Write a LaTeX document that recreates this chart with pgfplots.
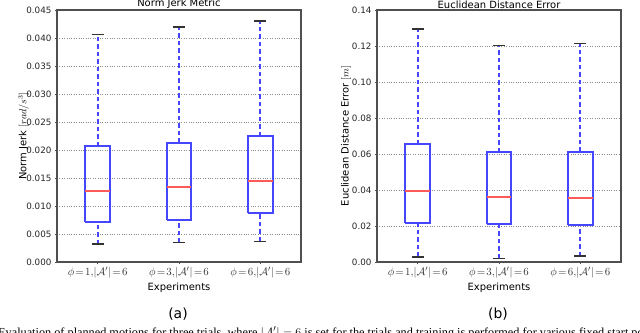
\documentclass[border=0pt]{standalone}
\usepackage{fontspec}
\setmainfont{DejaVu Sans}
\newfontfamily\capfont{Liberation Serif}
\usepackage{pgfplots}
\pgfplotsset{compat=1.18}
\definecolor{spine}{RGB}{80,80,80}
\definecolor{boxblue}{RGB}{70,70,255}
\definecolor{medred}{RGB}{255,90,90}
\pgfplotsset{
  mybox/.style={
    width=244bp, height=252bp, scale only axis,
    xmin=0.5, xmax=3.5,
    xtick={1,2,3},
    xticklabels={{$\phi\!=\!1,\!|\mathcal{A}'|\!=\!6$},{$\phi\!=\!3,\!|\mathcal{A}'|\!=\!6$},{$\phi\!=\!6,\!|\mathcal{A}'|\!=\!6$}},
    x tick label style={font=\fontsize{11}{12}\selectfont, color=black!80},
    y tick label style={font=\fontsize{8.8}{10}\selectfont, color=black!85},
    /pgf/number format/assume math mode=true,
    /pgf/number format/fixed, /pgf/number format/fixed zerofill,
    ymajorgrids, grid style={dotted, black!45, line width=0.6pt},
    axis line style={spine, line width=1.1pt},
    tick align=outside, major tick length=2bp,
    tick style={spine, line width=0.5pt},
    xtick pos=bottom, ytick pos=left,
    title style={font=\fontsize{10}{12}\selectfont, yshift=-8bp},
    xlabel={Experiments},
    xlabel style={font=\fontsize{10}{12}\selectfont, yshift=3bp},
    ylabel style={font=\fontsize{10}{12}\selectfont, anchor=center},
    unbounded coords=jump,
    whisk/.style={boxblue, line width=2bp, dash pattern=on 4.5bp off 3bp},
    cap/.style={black!80, line width=1.5bp},
    bx/.style={boxblue, line width=2bp, line join=miter},
    med/.style={medred, line width=2bp},
  }
}
\begin{document}
\begin{tikzpicture}
\useasboundingbox (0,0) rectangle (640bp,333bp);
\begin{axis}[mybox, at={(57bp,71bp)}, anchor=south west,
  ymin=0, ymax=0.045, ytick={0,0.005,...,0.045},
  /pgf/number format/precision=3,
  scaled y ticks=false,
  title={Norm Jerk Metric},
  ylabel={Norm Jerk $[rad/s^3]$},
  ylabel style={at={(axis description cs:-0.137,0.5)}},
]
% whiskers: lower whisker -> Q1, Q3 -> upper whisker
\addplot[whisk] coordinates {
  (1,0.0032) (1,0.00715) (nan,nan) (1,0.0207) (1,0.0406) (nan,nan)
  (2,0.00346) (2,0.00745) (nan,nan) (2,0.0213) (2,0.0420) (nan,nan)
  (3,0.0037) (3,0.00882) (nan,nan) (3,0.0225) (3,0.0430)};
% caps
\addplot[cap] coordinates {
  (0.925,0.0032) (1.075,0.0032) (nan,nan) (0.925,0.0406) (1.075,0.0406) (nan,nan)
  (1.925,0.00346) (2.075,0.00346) (nan,nan) (1.925,0.0420) (2.075,0.0420) (nan,nan)
  (2.925,0.0037) (3.075,0.0037) (nan,nan) (2.925,0.0430) (3.075,0.0430)};
% boxes Q1..Q3
\addplot[bx] coordinates {
  (0.85,0.00715) (1.15,0.00715) (1.15,0.0207) (0.85,0.0207) (0.85,0.00715) (nan,nan)
  (1.85,0.00745) (2.15,0.00745) (2.15,0.0213) (1.85,0.0213) (1.85,0.00745) (nan,nan)
  (2.85,0.00882) (3.15,0.00882) (3.15,0.0225) (2.85,0.0225) (2.85,0.00882)};
% medians
\addplot[med] coordinates {
  (0.85,0.0126) (1.15,0.0126) (nan,nan)
  (1.85,0.0134) (2.15,0.0134) (nan,nan)
  (2.85,0.01454) (3.15,0.01454)};
\end{axis}
\begin{axis}[mybox, at={(377bp,71bp)}, anchor=south west,
  ymin=0, ymax=0.14, ytick={0,0.02,...,0.14},
  /pgf/number format/precision=2,
  scaled y ticks=false,
  title={Euclidean Distance Error},
  ylabel={Euclidean Distance Error $[m]$},
  ylabel style={at={(axis description cs:-0.127,0.5)}},
]
\addplot[whisk] coordinates {
  (1,0.0028) (1,0.0217) (nan,nan) (1,0.0653) (1,0.1294) (nan,nan)
  (2,0.0020) (2,0.0213) (nan,nan) (2,0.0610) (2,0.1203) (nan,nan)
  (3,0.0033) (3,0.0204) (nan,nan) (3,0.0612) (3,0.1213)};
\addplot[cap] coordinates {
  (0.925,0.0028) (1.075,0.0028) (nan,nan) (0.925,0.1294) (1.075,0.1294) (nan,nan)
  (1.925,0.0020) (2.075,0.0020) (nan,nan) (1.925,0.1203) (2.075,0.1203) (nan,nan)
  (2.925,0.0033) (3.075,0.0033) (nan,nan) (2.925,0.1213) (3.075,0.1213)};
\addplot[bx] coordinates {
  (0.85,0.0217) (1.15,0.0217) (1.15,0.0653) (0.85,0.0653) (0.85,0.0217) (nan,nan)
  (1.85,0.0213) (2.15,0.0213) (2.15,0.0610) (1.85,0.0610) (1.85,0.0213) (nan,nan)
  (2.85,0.0204) (3.15,0.0204) (3.15,0.0612) (2.85,0.0612) (2.85,0.0204)};
\addplot[med] coordinates {
  (0.85,0.0395) (1.15,0.0395) (nan,nan)
  (1.85,0.0362) (2.15,0.0362) (nan,nan)
  (2.85,0.0354) (3.15,0.0354)};
\end{axis}
\node[font=\fontsize{14}{16}\selectfont] at (178bp,19bp) {(a)};
\node[font=\fontsize{14}{16}\selectfont] at (498bp,19bp) {(b)};
\node[anchor=base west, inner sep=0, font=\capfont\fontsize{12.3}{15}\selectfont] at (-2bp,-3bp) {Evaluation of planned motions for three trials, where $|\mathcal{A}'| = 6$ is set for the trials and training is performed for various fixed start positions};
\end{tikzpicture}
\end{document}
